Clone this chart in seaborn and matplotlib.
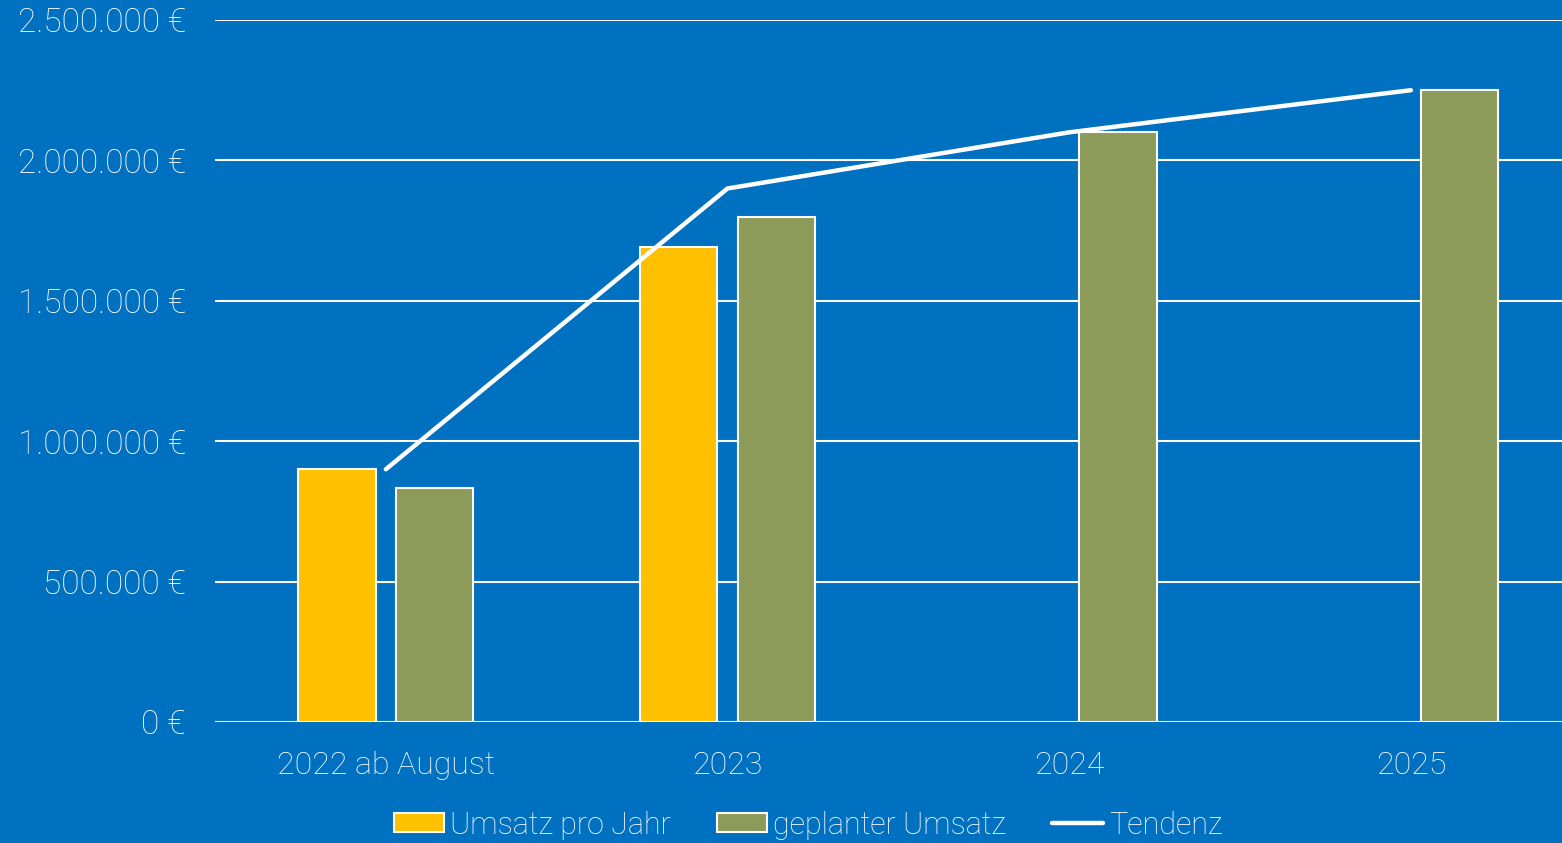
import pandas as pd
import matplotlib
matplotlib.use("Agg")
import matplotlib.pyplot as plt
import matplotlib.ticker as ticker
from matplotlib.patches import Patch
from matplotlib.lines import Line2D
import seaborn as sns

# data
jahre = ["2022 ab August", "2023", "2024", "2025"]
umsatz_pro_jahr = [900000, 1690000, None, None]
geplanter_umsatz = [835000, 1800000, 2100000, 2250000]
tendenz = [900000, 1900000, 2100000, 2250000]
serien = ["Umsatz pro Jahr", "geplanter Umsatz"]

blau = "#0070C0"
gelb = "#FFC000"
oliv = "#8C9B5A"

rows = []
for j, u, g in zip(jahre, umsatz_pro_jahr, geplanter_umsatz):
    if u is not None:
        rows.append({"Jahr": j, "Serie": serien[0], "Wert": u})
    rows.append({"Jahr": j, "Serie": serien[1], "Wert": g})
df = pd.DataFrame(rows)

sns.set_style("white")
plt.rcParams["font.family"] = ["Roboto", "DejaVu Sans"]
plt.rcParams["font.weight"] = "light"

fig = plt.figure(figsize=(15.62, 8.43), dpi=100, facecolor=blau)
ax = fig.add_axes([215 / 1562, 1 - 722 / 843, 1366.7 / 1562, 702 / 843])
ax.set_facecolor(blau)

sns.barplot(data=df, x="Jahr", y="Wert", hue="Serie", order=jahre,
            hue_order=serien, palette=[gelb, oliv], saturation=1,
            width=0.572, gap=0.21, edgecolor="white", linewidth=1.5,
            ax=ax, legend=False, zorder=3)

sns.pointplot(x=jahre, y=tendenz, color="white", markers="", linestyles="-",
              linewidth=3.2, ax=ax, zorder=4)
for ln in ax.lines:
    ln.set_solid_capstyle("round")

ax.set_xlim(-0.5, 3.5)
ax.set_ylim(0, 2500000)
ax.yaxis.set_major_locator(ticker.MultipleLocator(500000))
ax.yaxis.set_major_formatter(ticker.FuncFormatter(
    lambda v, p: "{:,.0f} €".format(v).replace(",", ".")))
ax.grid(axis="y", color="white", linewidth=1.5, zorder=0)
ax.set_axisbelow(True)
for s in ax.spines.values():
    s.set_visible(False)
ax.set_xlabel("")
ax.set_ylabel("")
ax.tick_params(axis="both", length=0, colors="white", labelsize=23)
ax.tick_params(axis="y", labelsize=24, pad=21)
ax.tick_params(axis="x", pad=21)

handles = [Patch(facecolor=gelb, edgecolor="white", linewidth=1.5),
           Patch(facecolor=oliv, edgecolor="white", linewidth=1.5),
           Line2D([0], [0], color="white", linewidth=3.2, solid_capstyle="round")]
leg = fig.legend(handles, ["Umsatz pro Jahr", "geplanter Umsatz", "Tendenz"],
                 loc="center", bbox_to_anchor=(808 / 1562, 1 - 825 / 843),
                 ncol=3, frameon=False, handlelength=1.65, handleheight=0.55,
                 handletextpad=0.2, columnspacing=1.5,
                 prop={"family": ["Roboto"], "size": 22})
for t in leg.get_texts():
    t.set_color("white")

fig.savefig("out.png", dpi=100, facecolor=blau)
